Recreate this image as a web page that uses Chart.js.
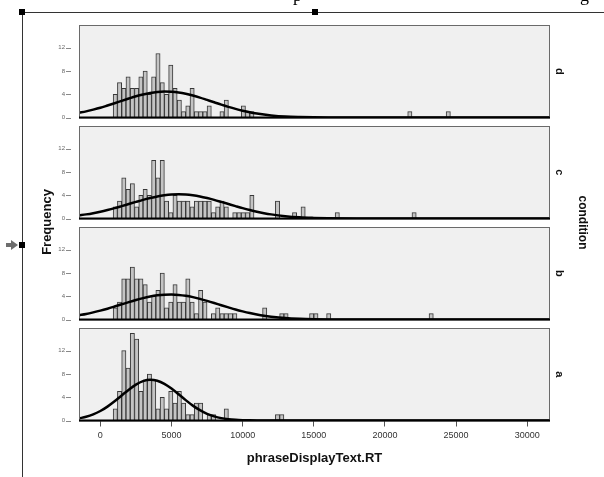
<!DOCTYPE html>
<html>
<head>
<meta charset="utf-8">
<script src="https://cdn.jsdelivr.net/npm/chart.js@4.4.0/dist/chart.umd.min.js"></script>
<style>
  html, body { margin: 0; padding: 0; background: #fff; }
  #wrap { position: relative; width: 604px; height: 477px; overflow: hidden; }
  #wrap canvas { position: absolute; left: 0; top: 0; }
</style>
</head>
<body>
<div id="wrap">
  <canvas id="cd" width="604" height="477"></canvas>
  <canvas id="cc" width="604" height="477"></canvas>
  <canvas id="cb" width="604" height="477"></canvas>
  <canvas id="ca" width="604" height="477"></canvas>
</div>
<script>
/* ==== data ==== */
const BIN_START = 900, BIN_WIDTH = 300;
const X_MIN = -1500, X_MAX = 31600, Y_MAX = 15.9;
const xTickValues = [0, 5000, 10000, 15000, 20000, 25000, 30000];
const yTickValues = [0, 4, 8, 12];
const xTitle = "phraseDisplayText.RT";
const yTitle = "Frequency";
const panelTitle = "condition";

// frequencies of consecutive bins, first bin starts at BIN_START
const countsD = [4,6,5,7,5,5,7,8,4,7,11,6,4,9,5,3,1,2,5,1,1,1,2,0,0,1,3,0,0,0,2,1,1];
const countsC = [2,3,7,5,6,2,4,5,4,10,7,10,3,1,4,3,3,3,2,3,3,3,3,1,2,3,2,0,1,1,1,1,4];
const countsB = [2,3,7,7,9,7,7,6,3,4,5,8,2,3,6,3,3,7,3,1,5,3,0,1,2,1,1,1,1];
const countsA = [2,5,12,9,15,14,5,7,8,7,2,4,2,5,3,5,3,1,1,3,3,0,1,1,0,0,2];

// far-out bins: [bin start, frequency]
const outliersD = [[21600,1],[24300,1]];
const outliersC = [[12300,3],[13500,1],[14100,2],[16500,1],[21900,1]];
const outliersB = [[11400,2],[12600,1],[12900,1],[14700,1],[15000,1],[15900,1],[23100,1]];
const outliersA = [[12300,1],[12600,1]];

// normal curves
const curveX = [-1500,-1000,-500,0,500,1000,1500,2000,2500,3000,3500,4000,4500,5000,5500,6000,6500,
                7000,7500,8000,8500,9000,9500,10000,10500,11000,11500,12000,13000,14000,15000,16000,18000,31600];
const curveD = [0.81,1.05,1.35,1.68,2.06,2.45,2.86,3.26,3.64,3.96,4.21,4.38,4.45,4.42,4.29,4.07,3.77,
                3.42,3.02,2.62,2.21,1.83,1.48,1.17,0.90,0.68,0.50,0.36,0.17,0.08,0.03,0.01,0,0];
const curveC = [0.54,0.71,0.92,1.17,1.46,1.78,2.13,2.49,2.85,3.20,3.51,3.78,3.98,4.11,4.15,4.11,3.98,
                3.78,3.51,3.20,2.85,2.49,2.13,1.78,1.46,1.17,0.92,0.71,0.40,0.20,0.10,0.04,0.01,0];
const curveB = [0.73,0.95,1.22,1.52,1.86,2.23,2.61,2.99,3.35,3.68,3.95,4.15,4.27,4.30,4.23,4.08,3.85,
                3.55,3.21,2.84,2.45,2.08,1.72,1.40,1.11,0.86,0.65,0.49,0.25,0.12,0.05,0.02,0,0];
const curveA = [0.37,0.64,1.05,1.63,2.39,3.30,4.31,5.30,6.16,6.76,7.00,6.84,6.31,5.49,4.51,3.50,2.56,
                1.77,1.15,0.71,0.41,0.23,0.12,0.06,0.03,0.01,0,0,0,0,0,0,0,0];

/* ==== drawing ==== */
const FONT = '"Liberation Sans", Arial, sans-serif';
Chart.defaults.font.family = FONT;

// grey panel, frame, thick baseline, detached y tick marks, rotated panel label
const panelPlugin = {
  id: 'panel',
  beforeDatasetsDraw(chart) {
    const { ctx, chartArea: a } = chart;
    ctx.save();
    ctx.fillStyle = '#f0f0f0';
    ctx.fillRect(a.left, a.top, a.right - a.left, a.bottom - a.top);
    ctx.restore();
  },
  afterDatasetsDraw(chart, args, opts) {
    const { ctx, chartArea: a, scales: { y } } = chart;
    ctx.save();
    ctx.strokeStyle = '#6a6a6a'; ctx.lineWidth = 1;
    ctx.strokeRect(a.left + 0.5, a.top + 0.5, a.right - a.left - 1, a.bottom - a.top);
    ctx.strokeStyle = '#000'; ctx.lineWidth = 2;
    ctx.beginPath(); ctx.moveTo(a.left, a.bottom); ctx.lineTo(a.right, a.bottom); ctx.stroke();
    ctx.strokeStyle = '#888'; ctx.lineWidth = 1;
    yTickValues.forEach(v => {
      const py = Math.round(y.getPixelForValue(v)) + 0.5;
      ctx.beginPath(); ctx.moveTo(a.left - 13, py); ctx.lineTo(a.left - 8, py); ctx.stroke();
    });
    ctx.translate(559, (a.top + a.bottom) / 2);
    ctx.rotate(Math.PI / 2);
    ctx.font = 'bold 11px ' + FONT;
    ctx.fillStyle = '#111'; ctx.textAlign = 'center'; ctx.textBaseline = 'middle';
    ctx.fillText(opts.label, 0, 0);
    ctx.restore();
  }
};

// axis titles and the selection frame around the output item
const framePlugin = {
  id: 'frame',
  afterDraw(chart) {
    const ctx = chart.ctx;
    ctx.save();
    // bottom of a heading that is cut off above the picture
    ctx.font = '18px "Liberation Serif", serif'; ctx.fillStyle = '#000'; ctx.textBaseline = 'alphabetic';
    ctx.fillText('p', 293, 1); ctx.fillText('g', 580, 1);

    ctx.strokeStyle = '#333'; ctx.lineWidth = 1;
    ctx.beginPath(); ctx.moveTo(22, 12.5); ctx.lineTo(604, 12.5); ctx.stroke();
    ctx.beginPath(); ctx.moveTo(22.5, 12); ctx.lineTo(22.5, 477); ctx.stroke();
    ctx.fillStyle = '#000';
    [[22, 12], [315, 12], [22, 245]].forEach(([x, y]) => ctx.fillRect(x - 3, y - 3, 6, 6));

    ctx.fillStyle = '#6e6e6e';
    ctx.fillRect(6, 243, 6, 4);
    ctx.beginPath(); ctx.moveTo(11, 240); ctx.lineTo(18, 245); ctx.lineTo(11, 250); ctx.closePath(); ctx.fill();

    ctx.fillStyle = '#111'; ctx.textAlign = 'center'; ctx.textBaseline = 'middle';
    ctx.save();
    ctx.translate(47.5, 222); ctx.rotate(-Math.PI / 2);
    ctx.font = 'bold 13px ' + FONT; ctx.fillText(yTitle, 0, 0);
    ctx.restore();
    ctx.save();
    ctx.translate(582, 222.5); ctx.rotate(Math.PI / 2);
    ctx.font = 'bold 12px ' + FONT; ctx.fillText(panelTitle, 0, 0);
    ctx.restore();
    ctx.restore();
  }
};

function makePanel(id, label, counts, outliers, curve, top, bottom, isBottom) {
  const bars = counts.map((c, i) => ({ x: BIN_START + BIN_WIDTH * (i + 0.5), y: c }))
    .concat(outliers.map(([s, c]) => ({ x: s + BIN_WIDTH / 2, y: c })))
    .filter(p => p.y > 0);
  const line = curveX.map((x, i) => ({ x, y: curve[i] }));

  const xScale = {
    type: 'linear', min: X_MIN, max: X_MAX, offset: false, display: isBottom,
    afterBuildTicks: s => { s.ticks = xTickValues.map(v => ({ value: v })); },
    border: { display: false },
    grid: { offset: false, drawOnChartArea: false, tickLength: 6, color: '#555' },
    ticks: { padding: 4, color: '#333', font: { size: 9 }, maxRotation: 0, autoSkip: false,
             callback: v => String(v) },
    title: { display: true, text: xTitle, color: '#111', font: { size: 13, weight: 'bold' },
             padding: { top: 0, bottom: 11 } }
  };
  if (isBottom) xScale.afterFit = s => { s.height = 477 - bottom; };

  return new Chart(document.getElementById(id), {
    type: 'bar',
    data: {
      datasets: [
        { type: 'line', data: line, borderColor: '#000', borderWidth: 2.5, pointRadius: 0,
          cubicInterpolationMode: 'monotone', fill: false },
        { type: 'bar', data: bars, backgroundColor: '#c4c4c4', borderColor: '#383838', borderWidth: 1,
          barPercentage: 1, categoryPercentage: 1 }
      ]
    },
    options: {
      responsive: false, animation: false, devicePixelRatio: 1,
      layout: { padding: { left: 0, right: 54, top: top, bottom: isBottom ? 0 : 477 - bottom } },
      plugins: { legend: { display: false }, tooltip: { enabled: false }, panel: { label } },
      scales: {
        x: xScale,
        y: {
          min: 0, max: Y_MAX,
          afterBuildTicks: s => { s.ticks = yTickValues.map(v => ({ value: v })); },
          afterFit: s => { s.width = 79; },
          border: { display: false },
          grid: { display: false, drawTicks: false },
          ticks: { padding: 14, color: '#666', font: { size: 6 } }
        }
      }
    },
    plugins: isBottom ? [panelPlugin, framePlugin] : [panelPlugin]
  });
}

makePanel('cd', 'd', countsD, outliersD, curveD, 25, 117.5, false);
makePanel('cc', 'c', countsC, outliersC, curveC, 126, 218.5, false);
makePanel('cb', 'b', countsB, outliersB, curveB, 227, 319.5, false);
makePanel('ca', 'a', countsA, outliersA, curveA, 328, 420.5, true);
</script>
</body>
</html>
